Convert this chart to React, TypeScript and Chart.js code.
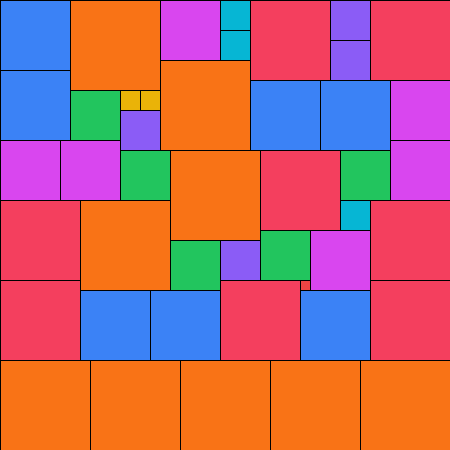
import React, { useEffect, useRef } from "react";
import { Chart, registerables } from "chart.js";

Chart.register(...registerables);

// Square packing: top-left corner (x, y) and side length, in chart units (0..450)
const squareX = [
  0, 70, 160, 220, 220, 250, 330, 330, 370,
  0, 70, 120, 140, 120, 160, 250, 320, 390,
  0, 60, 120, 170, 260, 340, 390, 340,
  0, 80, 170, 220, 260, 310, 370,
  0, 80, 150, 220, 300, 300, 370,
  0, 90, 180, 270, 360,
];
const squareY = [
  0, 0, 0, 0, 30, 0, 0, 40, 0,
  70, 90, 90, 90, 110, 60, 80, 80, 80,
  140, 140, 150, 150, 150, 150, 140, 200,
  200, 200, 240, 240, 230, 230, 200,
  280, 290, 290, 280, 280, 290, 280,
  360, 360, 360, 360, 360,
];
const squareSize = [
  70, 90, 60, 30, 30, 80, 40, 40, 80,
  70, 50, 20, 20, 40, 90, 70, 70, 60,
  60, 60, 50, 90, 80, 50, 60, 30,
  80, 90, 50, 40, 50, 60, 80,
  80, 70, 70, 80, 10, 70, 80,
  90, 90, 90, 90, 90,
];

const sizeColors: Record<number, string> = {
  10: "#ef4444",
  20: "#eab308",
  30: "#06b6d4",
  40: "#8b5cf6",
  50: "#22c55e",
  60: "#d946ef",
  70: "#3b82f6",
  80: "#f43f5e",
  90: "#f97316",
};

const squaresPlugin = {
  id: "squares",
  beforeDatasetsDraw(chart: any) {
    const { ctx, scales } = chart;
    const xs = scales.x;
    const ys = scales.y;
    ctx.save();
    for (let i = 0; i < squareSize.length; i++) {
      const s = squareSize[i];
      const x0 = xs.getPixelForValue(squareX[i]);
      const x1 = xs.getPixelForValue(squareX[i] + s);
      const y0 = ys.getPixelForValue(squareY[i]);
      const y1 = ys.getPixelForValue(squareY[i] + s);
      const left = Math.min(x0, x1);
      const top = Math.min(y0, y1);
      const w = Math.abs(x1 - x0);
      const h = Math.abs(y1 - y0);
      ctx.fillStyle = sizeColors[s] || "#999";
      ctx.fillRect(left, top, w, h);
      ctx.strokeStyle = "#000000";
      ctx.lineWidth = 1;
      ctx.strokeRect(left + 0.5, top + 0.5, w, h);
    }
    ctx.restore();
  },
};

export default function App() {
  const canvasRef = useRef<HTMLCanvasElement | null>(null);

  useEffect(() => {
    document.body.style.margin = "0";
    const canvas = canvasRef.current;
    if (!canvas) return;
    const chart = new Chart(canvas, {
      type: "scatter",
      data: {
        datasets: [
          {
            data: squareSize.map((s, i) => ({ x: squareX[i] + s / 2, y: squareY[i] + s / 2 })),
            pointRadius: 0,
            pointHoverRadius: 0,
          },
        ],
      },
      options: {
        animation: false,
        responsive: true,
        maintainAspectRatio: false,
        layout: { padding: 0 },
        plugins: { legend: { display: false }, tooltip: { enabled: false } },
        scales: {
          x: { type: "linear", min: 0, max: 450, display: false },
          y: { type: "linear", min: 0, max: 450, reverse: true, display: false },
        },
      },
      plugins: [squaresPlugin],
    });
    return () => chart.destroy();
  }, []);

  return (
    <div style={{ width: 450, height: 450, position: "relative" }}>
      <canvas ref={canvasRef} />
    </div>
  );
}
